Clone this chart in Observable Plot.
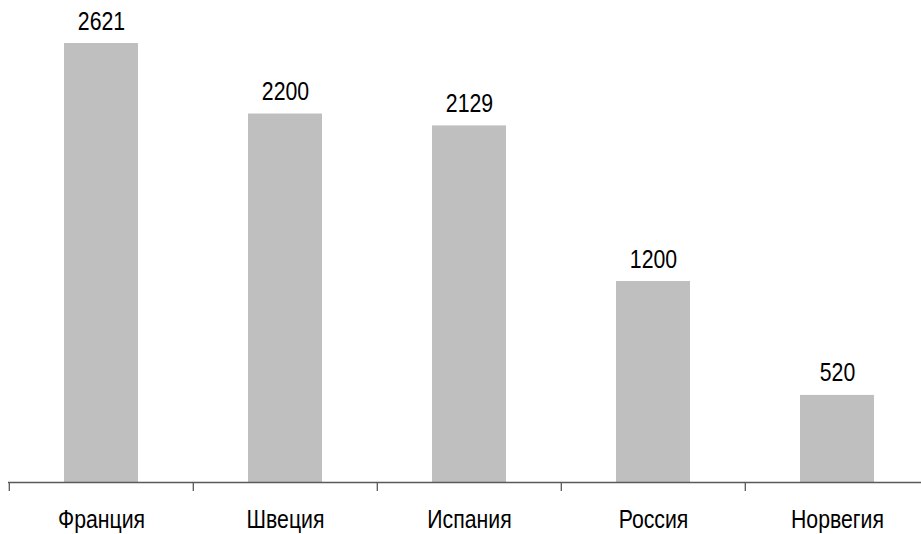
<!DOCTYPE html>
<html>
<head>
<meta charset="utf-8">
<script src="https://cdn.jsdelivr.net/npm/d3@7"></script>
<script src="https://cdn.jsdelivr.net/npm/@observablehq/plot@0.6"></script>
<style>
  html, body { margin: 0; padding: 0; background: #fff; }
  #chart svg { display: block; }
</style>
</head>
<body>
<div id="chart"></div>
<script>
const categories = ["Франция", "Швеция", "Испания", "Россия", "Норвегия"];
const values = [2621, 2200, 2129, 1200, 520];

const data = categories.map((c, i) => ({country: c, value: values[i]}));
const font = "'Liberation Sans Narrow', 'Arial Narrow', 'Liberation Sans', Arial, sans-serif";
const narrow = 0.85; // horizontal squeeze to imitate a narrow face

const chart = Plot.plot({
  width: 921,
  height: 534,
  marginLeft: 8,
  marginRight: 0,
  marginTop: 43,
  marginBottom: 52,
  style: {fontFamily: font, fontSize: "25px", color: "#000", background: "#fff"},
  x: {domain: categories, range: [8, 930], paddingInner: 0.6, paddingOuter: 0.3, label: null},
  y: {domain: [0, 2621], axis: null},
  marks: [
    Plot.barY(data, {x: "country", y: "value", fill: "#bfbfbf"}),
    Plot.ruleY([0], {stroke: "#595959", strokeWidth: 1.3}),
    Plot.axisX({tickSize: 9, text: null, dx: -92.2, stroke: "#595959", strokeWidth: 1.3}),
    Plot.axisX({tickSize: 0, tickPadding: 28, fontSize: 25, fill: "#000"}),
    Plot.text(data, {x: "country", y: "value", text: d => String(d.value), dy: -22, fontSize: 25, fill: "#000"})
  ]
});
chart.querySelectorAll("text").forEach(t => {
  const tr = t.getAttribute("transform");
  if (tr) t.setAttribute("transform", tr + ` scale(${narrow},1)`);
});
document.getElementById("chart").appendChild(chart);
</script>
</body>
</html>
